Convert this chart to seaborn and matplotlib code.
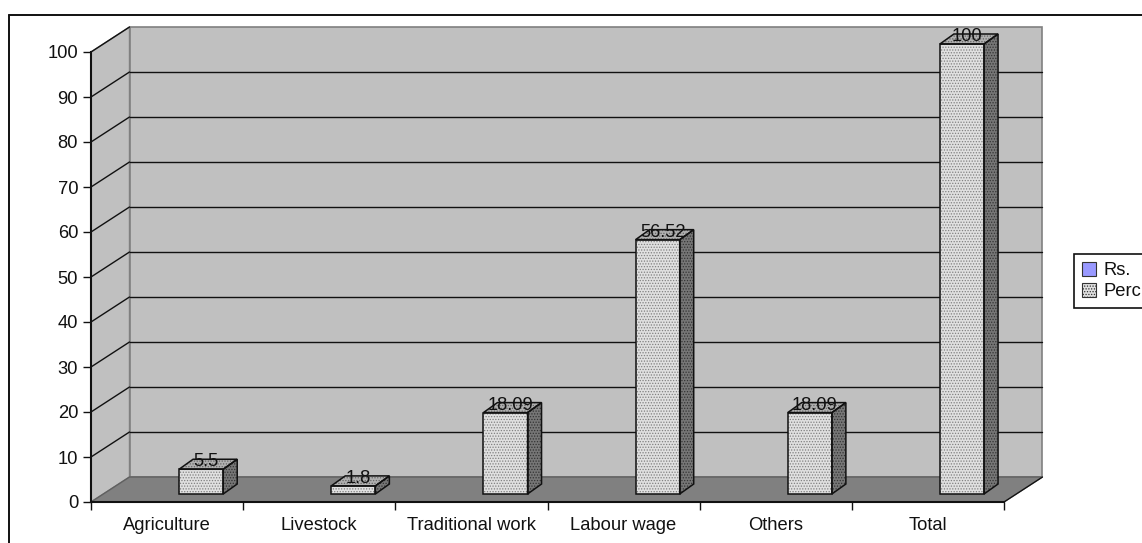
import numpy as np
import pandas as pd
import matplotlib
matplotlib.use("Agg")
import matplotlib.pyplot as plt
from matplotlib.lines import Line2D
from matplotlib.patches import Polygon, Rectangle
import seaborn as sns

categories = ["Agriculture", "Livestock", "Traditional work", "Labour wage", "Others", "Total"]
rupees = [np.nan] * 6
percent = [5.5, 1.8, 18.09, 56.52, 18.09, 100]
percent_labels = ["5.5", "1.8", "18.09", "56.52", "18.09", "100"]
series_names = ["Rs.", "Perc"]
y_ticks = list(range(0, 101, 10))

sns.set_style("white")
plt.rcParams["font.family"] = ["Liberation Sans", "DejaVu Sans"]
plt.rcParams["hatch.linewidth"] = 0.6

W, H = 1142, 543
FS = 13.2
fig = plt.figure(figsize=(W / 100, H / 100), dpi=100, facecolor="white")
L, R, B, T = 91, 1004, 502, 52
ax = fig.add_axes([L / W, 1 - B / H, (R - L) / W, (B - T) / H])

df = pd.DataFrame({
    "category": categories * 2,
    "value": rupees + percent,
    "series": [series_names[0]] * 6 + [series_names[1]] * 6,
})
sns.barplot(data=df, x="category", y="value", hue="series", hue_order=series_names,
            order=categories, palette=["#9999ff", "#e0e0e0"], width=0.58, gap=0,
            saturation=1, ax=ax, zorder=5, legend=True)

ax.set_xlim(-0.5, 5.5)
ax.set_ylim(0, 100)
ux = (R - L) / 6      # pixels per category
uy = (B - T) / 100    # pixels per y unit
px = lambda p: p / ux
py = lambda p: p / uy
DX, DY = px(38.5), py(25)   # wall depth
x0, x1 = -0.5, 5.5

# Walls and floor
ax.add_patch(Polygon([(x0, 0), (x0 + DX, DY), (x0 + DX, 100 + DY), (x0, 100)], closed=True,
                     fc="#c0c0c0", ec="#808080", lw=1, zorder=0.5, clip_on=False))
ax.add_patch(Polygon([(x0 + DX, DY), (x1 + DX, DY), (x1 + DX, 100 + DY), (x0 + DX, 100 + DY)], closed=True,
                     fc="#c0c0c0", ec="#808080", lw=1.2, zorder=0.6, clip_on=False))
ax.add_patch(Polygon([(x0, 0), (x1, 0), (x1 + DX, DY), (x0 + DX, DY)], closed=True,
                     fc="#808080", ec="#606060", lw=1, zorder=1.5, clip_on=False))
ax.plot([x1, x1 + DX], [0, DY], color="#111111", lw=0.9, zorder=1.6, clip_on=False)

# Gridlines on side and back wall
for v in y_ticks[1:]:
    if v < 100:
        ax.plot([x0 + DX, x1 + DX], [v + DY, v + DY], color="#111111", lw=1.0, zorder=1, clip_on=False)
    ax.plot([x0, x0 + DX], [v, v + DY], color="#111111", lw=1.0, zorder=1, clip_on=False)

# Bars: pushed back into the floor, with side and top faces
shift_x, shift_y = px(12), py(8)
depth_x, depth_y = px(14), py(10)
front_bars = ax.containers[-1]
for bar, lab in zip(front_bars, percent_labels):
    h = bar.get_height()
    bar.set_x(bar.get_x() + shift_x)
    bar.set_y(shift_y)
    bar.set(hatch="......", edgecolor="#808080", linewidth=0, clip_on=False, zorder=5)
    xa, w = bar.get_x(), bar.get_width()
    xb, top = xa + w, shift_y + h
    side = [(xb, shift_y), (xb + depth_x, shift_y + depth_y), (xb + depth_x, top + depth_y), (xb, top)]
    lid = [(xa, top), (xb, top), (xb + depth_x, top + depth_y), (xa + depth_x, top + depth_y)]
    ax.add_patch(Rectangle((xa, shift_y), w, h, fill=False, ec="#111111", lw=1.1, zorder=6, clip_on=False))
    ax.add_patch(Polygon(side, closed=True, fc="#767676", ec="#333333", lw=0, hatch="......",
                         zorder=5, clip_on=False))
    ax.add_patch(Polygon(side, closed=True, fill=False, ec="#111111", lw=1.1, zorder=6, clip_on=False))
    ax.add_patch(Polygon(lid, closed=True, fc="#b0b0b0", ec="#666666", lw=0, hatch="......",
                         zorder=5, clip_on=False))
    ax.add_patch(Polygon(lid, closed=True, fill=False, ec="#111111", lw=1.1, zorder=6, clip_on=False))
    ax.text(xa + w / 2 + px(5), top + py(3), lab, ha="center", va="baseline",
            fontsize=FS, color="#111111", zorder=7, clip_on=False)

# Axes
ax.set_xlabel("")
ax.set_ylabel("")
ax.set_yticks(y_ticks)
ax.set_xticks(range(6))
ax.set_xticklabels(categories)
ax.set_xticks(np.arange(-0.5, 6), minor=True)
ax.tick_params(axis="x", which="major", length=0, pad=10.5, labelsize=FS, labelcolor="#111111")
ax.tick_params(axis="x", which="minor", length=5.5, width=1, color="#111111", bottom=True)
ax.tick_params(axis="y", which="major", length=5.8, width=1, color="#111111", left=True, pad=3.5,
               labelsize=FS, labelcolor="#111111")
for side_name in ("top", "right"):
    ax.spines[side_name].set_visible(False)
for side_name in ("left", "bottom"):
    ax.spines[side_name].set_color("#111111")
    ax.spines[side_name].set_linewidth(1.5)
    ax.spines[side_name].set_zorder(2)

# Legend
sns.move_legend(ax, loc="upper left", bbox_to_anchor=(1074 / W, 1 - 254 / H),
                bbox_transform=fig.transFigure, title=None, frameon=True, fontsize=FS,
                handlelength=0.8, handleheight=0.8, handletextpad=0.4, labelspacing=0.22,
                borderpad=0.42, borderaxespad=0, fancybox=False, edgecolor="#111111",
                framealpha=1)
leg = ax.get_legend()
leg.get_frame().set_linewidth(1.2)
handles = leg.get_patches()
for h_ in handles:
    h_.set_edgecolor("#333333")
    h_.set_linewidth(0.8)
handles[1].set_hatch("......")
for t in leg.get_texts():
    t.set_color("#111111")

# Outer chart frame
fig.add_artist(Line2D([9 / W, 9 / W], [0, 1 - 15 / H], color="#111111", lw=1.4))
fig.add_artist(Line2D([9 / W, 1], [1 - 15 / H, 1 - 15 / H], color="#111111", lw=1.4))

fig.savefig("out.png", dpi=100, facecolor="white")
